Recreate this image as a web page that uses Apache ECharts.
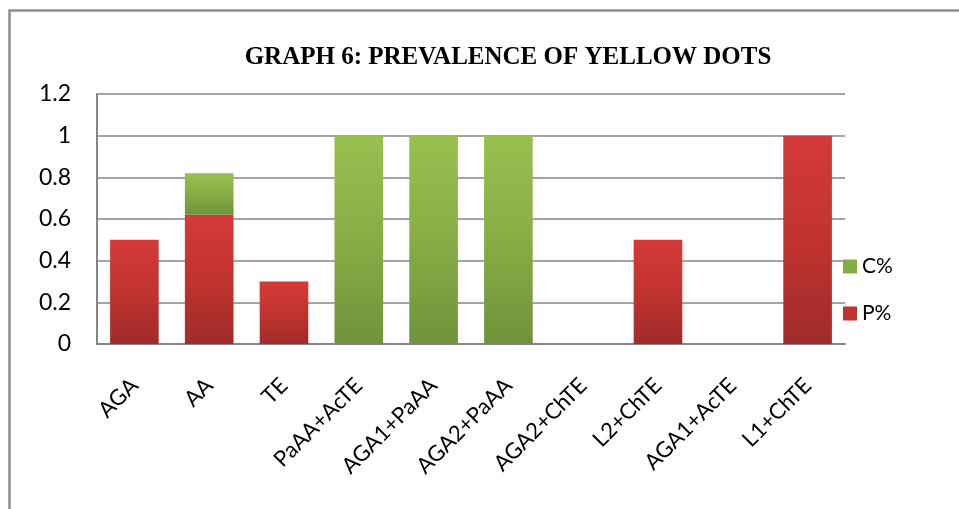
<!DOCTYPE html>
<html>
<head>
<meta charset="utf-8">
<script src="https://cdn.jsdelivr.net/npm/echarts@6/dist/echarts.min.js"></script>
<style>
  html, body { margin: 0; padding: 0; background: #fff; }
  #chart { width: 959px; height: 509px; }
</style>
</head>
<body>
<div id="chart"></div>
<script>
// Treatments on the x axis
const categories = ['AGA', 'AA', 'TE', 'PaAA+AcTE', 'AGA1+PaAA', 'AGA2+PaAA', 'AGA2+ChTE', 'L2+ChTE', 'AGA1+AcTE', 'L1+ChTE'];
// Stacked shares: P% at the bottom, C% on top
const pValues = [0.5, 0.62, 0.3, 0, 0, 0, 0, 0.5, 0, 1];
const cValues = [0, 0.2, 0, 1, 1, 1, 0, 0, 0, 0];
const yTicks = [0, 0.2, 0.4, 0.6, 0.8, 1, 1.2];

const labelFont = 'Lato, "Noto Sans", sans-serif';

const redFill = new echarts.graphic.LinearGradient(0, 0, 0, 1, [
  { offset: 0, color: '#d43a38' },
  { offset: 0.5, color: '#c1332f' },
  { offset: 1, color: '#a02b2a' }
]);
const greenFill = new echarts.graphic.LinearGradient(0, 0, 0, 1, [
  { offset: 0, color: '#98c04f' },
  { offset: 0.5, color: '#87ad45' },
  { offset: 1, color: '#6f933a' }
]);

const chart = echarts.init(document.getElementById('chart'), null, { renderer: 'canvas' });
chart.setOption({
  animation: false,
  backgroundColor: '#ffffff',
  title: {
    text: 'GRAPH 6: PREVALENCE OF YELLOW DOTS',
    left: 503,
    top: 40,
    textAlign: 'center',
    textStyle: {
      fontFamily: '"Liberation Serif", "Times New Roman", serif',
      fontWeight: 'bold',
      fontSize: 25,
      color: '#000'
    }
  },
  legend: {
    orient: 'vertical',
    left: 838,
    top: 251,
    itemWidth: 14,
    itemHeight: 14,
    itemGap: 26,
    icon: 'rect',
    data: [
      { name: 'C%', itemStyle: { color: '#86ac45' } },
      { name: 'P%', itemStyle: { color: '#c0332f' } }
    ],
    textStyle: { fontFamily: labelFont, fontSize: 21, color: '#000', padding: [0, 0, 0, 0] }
  },
  grid: { left: 97, right: 114, top: 94, bottom: 165, containLabel: false },
  xAxis: {
    type: 'category',
    data: categories,
    axisLine: { show: true, lineStyle: { color: '#868686', width: 2 } },
    axisTick: { show: false },
    axisLabel: {
      rotate: 45,
      interval: 0,
      margin: 38,
      fontFamily: labelFont,
      fontSize: 22,
      color: '#000'
    }
  },
  yAxis: {
    type: 'value',
    min: yTicks[0],
    max: yTicks[yTicks.length - 1],
    interval: 0.2,
    axisLine: { show: true, lineStyle: { color: '#868686', width: 2 } },
    axisTick: { show: false },
    splitLine: { show: true, lineStyle: { color: '#868686', width: 1.5 } },
    axisLabel: {
      margin: 26,
      fontFamily: labelFont,
      fontSize: 23,
      color: '#000',
      formatter: v => String(Math.round(v * 10) / 10)
    }
  },
  series: [
    {
      name: 'P%',
      type: 'bar',
      stack: 'total',
      data: pValues,
      barWidth: '65%',
      itemStyle: { color: redFill }
    },
    {
      name: 'C%',
      type: 'bar',
      stack: 'total',
      data: cValues,
      barWidth: '65%',
      itemStyle: { color: greenFill }
    }
  ],
  graphic: [
    {
      type: 'polyline',
      silent: true,
      shape: { points: [[9.5, 509], [9.5, 10.5], [959, 10.5]] },
      style: { stroke: '#8f8f8f', lineWidth: 2.5, fill: null }
    }
  ]
});
</script>
</body>
</html>
